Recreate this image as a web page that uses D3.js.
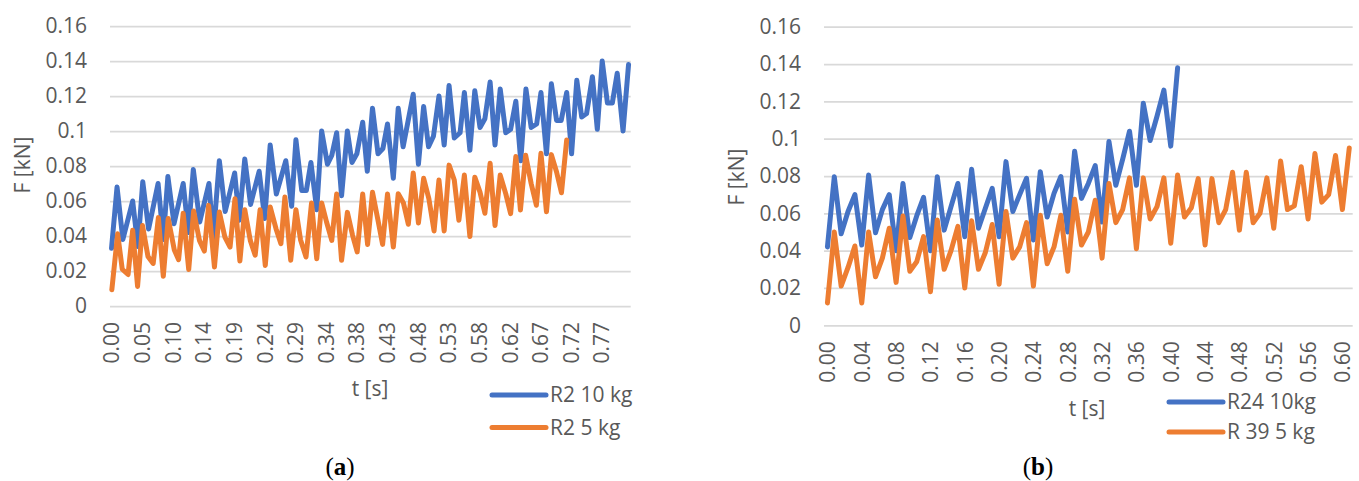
<!DOCTYPE html>
<html>
<head>
<meta charset="utf-8">
<script src="https://cdn.jsdelivr.net/npm/d3@7"></script>
<style>
  body { margin: 0; background: #fff; }
  svg { display: block; }
</style>
</head>
<body>
<div id="chart"></div>
<script>
// force axis, shared by both panels
const yTicks = [0, 0.02, 0.04, 0.06, 0.08, 0.1, 0.12, 0.14, 0.16];
const yTickLabels = ['0', '0.02', '0.04', '0.06', '0.08', '0.1', '0.12', '0.14', '0.16'];

// panel (a): 170 samples, a label every 10 samples
const aSampleCount = 170;
const aTickLabels = ['0.00', '0.05', '0.10', '0.14', '0.19', '0.24', '0.29', '0.34', '0.38',
  '0.43', '0.48', '0.53', '0.58', '0.62', '0.67', '0.72', '0.77'];
const aSeriesNames = ['R2 10 kg', 'R2 5 kg'];

// R2 10 kg: sample position and force at each turning point
const aBlueSample = [0, 1.8, 3.7, 6.9, 8.6, 10.2, 12.1, 15.2, 16.9, 18.4, 20.4, 23.4, 25.1, 26.7,
  28.8, 31.8, 33.2, 35.2, 37.1, 40.2, 41.7, 43.5, 45.4, 48.2, 50.0, 51.8, 53.8, 56.9, 58.8, 60.2,
  62.1, 63.6, 65.1, 67.0, 68.6, 70.5, 71.9, 73.5, 75.1, 77.0, 78.5, 80.1, 82.0, 83.5, 85.2, 87.0,
  88.6, 90.1, 92.0, 93.6, 95.2, 98.5, 100.2, 101.9, 103.5, 105.1, 106.9, 108.6, 110.2, 111.9,
  113.8, 115.2, 117.0, 118.6, 120.3, 121.9, 123.6, 125.2, 126.9, 128.7, 130.3, 132.0, 133.6,
  135.3, 137.0, 138.8, 140.2, 142.0, 143.6, 145.3, 146.8, 148.6, 150.2, 151.9, 153.5, 155.1,
  157.0, 158.6, 160.2, 161.9, 163.5, 165.1, 167.0, 168.8];
const aBlueF = [0.033, 0.068, 0.038, 0.060, 0.034, 0.071, 0.044, 0.070, 0.038, 0.074, 0.047, 0.070,
  0.042, 0.078, 0.048, 0.070, 0.039, 0.083, 0.054, 0.076, 0.049, 0.084, 0.058, 0.077, 0.050, 0.092,
  0.064, 0.083, 0.057, 0.095, 0.066, 0.066, 0.082, 0.055, 0.100, 0.081, 0.086, 0.099, 0.063, 0.100,
  0.082, 0.087, 0.105, 0.077, 0.113, 0.087, 0.090, 0.104, 0.073, 0.113, 0.091, 0.121, 0.081, 0.114,
  0.091, 0.097, 0.120, 0.092, 0.126, 0.096, 0.099, 0.122, 0.089, 0.123, 0.102, 0.107, 0.128, 0.092,
  0.124, 0.099, 0.101, 0.117, 0.083, 0.124, 0.102, 0.104, 0.122, 0.087, 0.127, 0.106, 0.106, 0.122,
  0.087, 0.129, 0.108, 0.110, 0.131, 0.101, 0.140, 0.116, 0.116, 0.133, 0.100, 0.138];

// R2 5 kg
const aOrangeSample = [0.1, 2.0, 3.5, 5.4, 6.9, 8.5, 10.1, 11.9, 13.6, 15.3, 16.9, 18.5, 20.5, 21.9,
  23.4, 25.2, 26.8, 28.7, 30.3, 31.7, 33.6, 35.2, 37.0, 38.7, 40.3, 41.9, 43.5, 45.3, 46.9, 48.5,
  50.2, 51.8, 53.7, 55.3, 56.6, 58.5, 60.2, 61.7, 63.5, 65.3, 67.0, 68.6, 70.2, 71.9, 73.5, 75.1,
  77.0, 78.7, 80.2, 82.0, 83.6, 85.2, 86.9, 88.5, 90.1, 92.0, 93.6, 95.3, 96.9, 98.5, 100.2, 101.9,
  103.6, 105.3, 106.9, 108.6, 110.2, 111.9, 113.4, 115.2, 117.0, 118.6, 120.3, 121.9, 123.6, 125.2,
  126.9, 128.7, 130.3, 132.0, 133.5, 135.2, 137.0, 138.7, 140.2, 142.0, 143.6, 145.3, 146.9, 148.6];
const aOrangeF = [0.0093, 0.0413, 0.021, 0.018, 0.0433, 0.0112, 0.046, 0.0283, 0.0243, 0.0505,
  0.017, 0.050, 0.032, 0.0265, 0.053, 0.0208, 0.0543, 0.0375, 0.0314, 0.0575, 0.0223, 0.0537,
  0.0394, 0.0337, 0.0613, 0.0257, 0.055, 0.0375, 0.029, 0.055, 0.0232, 0.0566, 0.0442, 0.0356,
  0.0623, 0.0261, 0.055, 0.0379, 0.028, 0.0589, 0.027, 0.0589, 0.048, 0.0375, 0.064, 0.0261,
  0.0535, 0.0404, 0.0309, 0.064, 0.0352, 0.065, 0.0499, 0.0352, 0.064, 0.0337, 0.0642, 0.0589,
  0.0467, 0.076, 0.0474, 0.073, 0.0613, 0.0429, 0.072, 0.0429, 0.0805, 0.072, 0.049, 0.0748,
  0.0397, 0.0736, 0.0651, 0.053, 0.0816, 0.046, 0.0748, 0.0642, 0.0528, 0.0854, 0.0548, 0.0862,
  0.070, 0.0576, 0.0873, 0.0538, 0.0865, 0.0766, 0.0647, 0.0948];

// panel (b): 77 samples, a label every 5 samples, one value per sample
const bSampleCount = 77;
const bTickLabels = ['0.00', '0.04', '0.08', '0.12', '0.16', '0.20', '0.24', '0.28', '0.32',
  '0.36', '0.40', '0.44', '0.48', '0.52', '0.56', '0.60'];
const bSeriesNames = ['R24 10kg', 'R 39 5 kg'];

const bBlueF = [0.042, 0.0796, 0.049, 0.061, 0.070, 0.043, 0.0805, 0.0496, 0.062, 0.070,
  0.040, 0.076, 0.047, 0.0586, 0.0686, 0.040, 0.0796, 0.051, 0.0636, 0.076,
  0.0475, 0.0836, 0.052, 0.0627, 0.0734, 0.0475, 0.0877, 0.061, 0.070, 0.0788,
  0.0457, 0.0823, 0.058, 0.0707, 0.0797, 0.050, 0.0933, 0.068, 0.076, 0.0856,
  0.0553, 0.0985, 0.075, 0.089, 0.104, 0.075, 0.119, 0.099, 0.112, 0.126,
  0.096, 0.138];
const bOrangeF = [0.012, 0.050, 0.021, 0.031, 0.0425, 0.012, 0.050, 0.026, 0.036, 0.052,
  0.023, 0.0586, 0.029, 0.034, 0.0475, 0.018, 0.0564, 0.030, 0.040, 0.053,
  0.020, 0.056, 0.030, 0.039, 0.054, 0.022, 0.061, 0.036, 0.042, 0.055,
  0.021, 0.059, 0.033, 0.042, 0.059, 0.029, 0.0675, 0.043, 0.050, 0.067,
  0.036, 0.076, 0.055, 0.062, 0.079, 0.041, 0.079, 0.057, 0.0636, 0.079,
  0.044, 0.0805, 0.058, 0.063, 0.0786, 0.043, 0.0786, 0.055, 0.062, 0.082,
  0.051, 0.082, 0.055, 0.060, 0.079, 0.052, 0.088, 0.062, 0.064, 0.085,
  0.057, 0.092, 0.066, 0.070, 0.091, 0.062, 0.095];

const BLUE = '#4472C4';
const ORANGE = '#ED7D31';
const TEXT = '#595959';
const FONT = '"Open Sans", "Noto Sans", sans-serif';

const svg = d3.select('#chart')
  .append('svg')
  .attr('width', 1359)
  .attr('height', 481);

svg.append('rect')
  .attr('width', 1359)
  .attr('height', 481)
  .attr('fill', '#fff');

function drawPanel(p) {
  const x = d3.scaleLinear()
    .domain([-0.5, p.count - 0.5])
    .range([p.x0, p.x1]);
  const y = d3.scaleLinear()
    .domain([0, 0.16])
    .range([p.y0, p.y1]);

  const g = svg.append('g');

  // gridlines + y labels
  const yAxis = d3.axisLeft(y)
    .tickValues(yTicks)
    .tickFormat((d, i) => yTickLabels[i])
    .tickSize(-(p.x1 - p.x0))
    .tickPadding(23);
  const ya = g.append('g')
    .attr('transform', 'translate(' + p.x0 + ',0)')
    .call(yAxis);
  ya.select('.domain').remove();
  ya.selectAll('line')
    .attr('stroke', '#D9D9D9')
    .attr('stroke-width', 1.75);
  ya.selectAll('text')
    .attr('fill', TEXT)
    .style('font-family', FONT)
    .style('font-size', '21px');

  // rotated category labels
  const xa = g.append('g')
    .attr('transform', 'translate(0,' + p.y0 + ')')
    .call(d3.axisBottom(x)
      .tickValues(p.labels.map((l, k) => k * p.every))
      .tickFormat((d, i) => p.labels[i])
      .tickSize(0));
  xa.select('.domain').remove();
  xa.selectAll('text')
    .attr('transform', 'rotate(-90)')
    .attr('text-anchor', 'end')
    .attr('x', -16)
    .attr('y', 0)
    .attr('dy', '0.35em')
    .attr('fill', TEXT)
    .style('font-family', FONT)
    .style('font-size', '21px');

  const line = d3.line()
    .x(d => x(d[0]))
    .y(d => y(d[1]));

  p.series.forEach(s => {
    g.append('path')
      .datum(s.xs.map((v, i) => [v, s.fs[i]]))
      .attr('fill', 'none')
      .attr('stroke', s.color)
      .attr('stroke-width', 5)
      .attr('stroke-linejoin', 'round')
      .attr('stroke-linecap', 'round')
      .attr('d', line);
  });

  // axis titles
  g.append('text')
    .attr('transform', 'translate(' + p.fLabel[0] + ',' + p.fLabel[1] + ') rotate(-90)')
    .attr('text-anchor', 'middle')
    .attr('dy', '0.35em')
    .attr('fill', TEXT)
    .style('font-family', FONT)
    .style('font-size', '21px')
    .text('F [kN]');

  g.append('text')
    .attr('x', p.tLabel[0])
    .attr('y', p.tLabel[1])
    .attr('text-anchor', 'middle')
    .attr('dy', '0.35em')
    .attr('fill', TEXT)
    .style('font-family', FONT)
    .style('font-size', '21px')
    .text('t [s]');

  // legend
  p.series.forEach((s, i) => {
    const ly = p.legend[1] + i * p.legend[2];
    g.append('line')
      .attr('x1', p.legend[0])
      .attr('x2', p.legend[0] + 54)
      .attr('y1', ly)
      .attr('y2', ly)
      .attr('stroke', s.color)
      .attr('stroke-width', 5)
      .attr('stroke-linecap', 'round');
    g.append('text')
      .attr('x', p.legend[0] + 58)
      .attr('y', ly)
      .attr('dy', '0.35em')
      .attr('fill', TEXT)
      .style('font-family', FONT)
      .style('font-size', '21px')
      .text(s.name);
  });

  // caption
  const cap = g.append('text')
    .attr('x', p.caption[0])
    .attr('y', p.caption[1])
    .attr('text-anchor', 'middle')
    .attr('dy', '0.35em')
    .attr('fill', '#000')
    .style('font-family', '"Liberation Serif", "DejaVu Serif", serif')
    .style('font-size', '25px');
  cap.append('tspan').text('(');
  cap.append('tspan').attr('font-weight', 'bold').text(p.letter);
  cap.append('tspan').text(')');
}

drawPanel({
  x0: 110, x1: 630.7, y0: 306, y1: 26,
  count: aSampleCount, every: 10, labels: aTickLabels,
  series: [
    {name: aSeriesNames[0], color: BLUE, xs: aBlueSample, fs: aBlueF},
    {name: aSeriesNames[1], color: ORANGE, xs: aOrangeSample, fs: aOrangeF}
  ],
  fLabel: [23, 165], tLabel: [370, 389],
  legend: [492, 395, 32.5],
  caption: [340, 466], letter: 'a'
});

drawPanel({
  x0: 824, x1: 1352.7, y0: 325.3, y1: 26.7,
  count: bSampleCount, every: 5, labels: bTickLabels,
  series: [
    {name: bSeriesNames[0], color: BLUE, xs: d3.range(bBlueF.length), fs: bBlueF},
    {name: bSeriesNames[1], color: ORANGE, xs: d3.range(bOrangeF.length), fs: bOrangeF}
  ],
  fLabel: [737, 177], tLabel: [1087, 409],
  legend: [1169, 402, 30],
  caption: [1038, 466], letter: 'b'
});
</script>
</body>
</html>
